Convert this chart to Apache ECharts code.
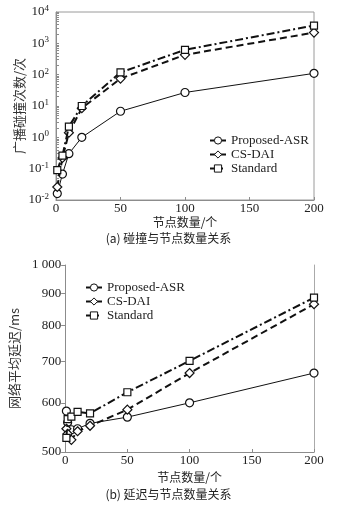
<!DOCTYPE html>
<html>
<head>
<meta charset="utf-8">
<script src="https://cdn.jsdelivr.net/npm/echarts@6/dist/echarts.min.js"></script>
<style>
  html, body { margin: 0; padding: 0; background: #fff; }
  #main { width: 337px; height: 505px; }
</style>
</head>
<body>
<div id="main"></div>
<script>
// (a) collisions vs node count
const nodesA = [1, 5, 10, 20, 50, 100, 200];
const asrA = [0.016, 0.067, 0.3, 1.0, 6.8, 27, 110];
const daiA = [0.026, 0.22, 1.4, 8.5, 75, 430, 2200];
const stdA = [0.09, 0.26, 2.2, 10, 118, 620, 3700];

// (b) delay vs node count
const nodesB = [1, 2, 5, 10, 20, 50, 100, 200];
const asrB = [582, 558, 543, 545, 556, 569, 600, 670];
const daiB = [545, 535, 523, 540, 551, 585, 670, 865];
const stdB = [527, 565, 570, 580, 577, 624, 701, 886];

const xTicks = [0, 50, 100, 150, 200];
const yTicksA = [0.01, 0.1, 1, 10, 100, 1000, 10000];
const yMinorA = [];
yTicksA.slice(0, -1).forEach(d => { for (let k = 1; k <= 9; k++) yMinorA.push(+(d * k).toPrecision(3)); });
yMinorA.push(10000);
const yTicksB = [500, 600, 700, 800, 900, 1000];

const serif = "'Liberation Serif', 'Noto Sans CJK SC', serif";
const cjk = "'Noto Sans CJK SC', sans-serif";
const axisGray = '#8c8c8c';

function pairs(xs, ys) { return xs.map((x, i) => [x, ys[i]]); }

const names = ['Proposed-ASR', 'CS-DAI', 'Standard'];
const styles = [
  { width: 1, type: 'solid' },
  { width: 2, type: [7, 4] },
  { width: 2, type: [8, 3, 2, 3] }
];
const symbols = ['circle', 'diamond', 'rect'];
const sizes = [8, 9, 7];

function mkSeries(data, xi, yi) {
  return data.map((d, i) => ({
    name: names[i],
    type: 'line',
    xAxisIndex: xi,
    yAxisIndex: yi,
    data: d,
    symbol: symbols[i],
    symbolSize: sizes[i],
    showAllSymbol: true,
    lineStyle: { color: '#111', width: styles[i].width, type: styles[i].type },
    itemStyle: { color: '#fff', borderColor: '#111', borderWidth: 1.2 },
    z: 3 + i
  }));
}

const chart = echarts.init(document.getElementById('main'), null, { renderer: 'canvas' });

const xAxisBase = (gi, nameGap) => ({
  gridIndex: gi,
  type: 'value',
  min: 0, max: 200, interval: 50,
  name: '节点数量/个',
  nameLocation: 'middle',
  nameGap: nameGap,
  nameTextStyle: { fontFamily: cjk, fontSize: 12, color: '#222' },
  axisLine: { lineStyle: { color: axisGray } },
  axisTick: { inside: true, length: 3, lineStyle: { color: axisGray }, customValues: xTicks },
  axisLabel: { fontFamily: serif, fontSize: 13, color: '#222', margin: 2, customValues: xTicks },
  splitLine: { show: false }
});

const legendBase = (left, top) => ({
  data: names, orient: 'vertical', left: left, top: top,
  itemWidth: 16, itemHeight: 9, itemGap: 1,
  itemStyle: { color: '#fff', borderColor: '#111', borderWidth: 1 },
  textStyle: { fontFamily: serif, fontSize: 13, color: '#222', lineHeight: 13 }
});

const option = {
  backgroundColor: '#fff',
  animation: false,
  grid: [
    { left: 56, right: 23, top: 12, height: 188, show: true, borderColor: '#9a9a9a', borderWidth: 1 },
    { left: 56, right: 23, top: 265, height: 187 }
  ],
  legend: [legendBase(204, 129), legendBase(80, 276)],
  xAxis: [xAxisBase(0, 16), xAxisBase(1, 19)],
  yAxis: [
    {
      gridIndex: 0,
      type: 'log', logBase: 10, min: 0.01, max: 10000,
      name: '广播碰撞次数/次',
      nameLocation: 'middle', nameGap: 30, nameRotate: 90, nameMoveOverlap: false,
      nameTextStyle: { fontFamily: cjk, fontSize: 13, color: '#333' },
      axisLine: { show: true, lineStyle: { color: axisGray } },
      axisTick: { inside: true, length: 3, lineStyle: { color: axisGray }, customValues: yMinorA },
      axisLabel: {
        customValues: yTicksA,
        fontFamily: serif, fontSize: 13, color: '#222', margin: 7,
        formatter: v => '10{s|' + Math.round(Math.log10(v)) + '}',
        rich: { s: { fontFamily: serif, fontSize: 9, color: '#222', verticalAlign: 'top', padding: [0, 0, 7, 0] } }
      },
      splitLine: { show: false }
    },
    {
      gridIndex: 1,
      type: 'log', logBase: 10, min: 500, max: 1000,
      name: '网络平均延迟/ms',
      nameLocation: 'middle', nameGap: 37, nameRotate: 90,
      nameTextStyle: { fontFamily: cjk, fontSize: 13, color: '#333' },
      axisLine: { show: true, lineStyle: { color: axisGray } },
      axisTick: { inside: false, length: 4, lineStyle: { color: axisGray }, customValues: yTicksB },
      axisLabel: {
        customValues: yTicksB,
        fontFamily: serif, fontSize: 13, color: '#222', margin: 4,
        formatter: v => v === 1000 ? '1 000' : String(v)
      },
      splitLine: { show: false }
    },
    {
      gridIndex: 1,
      type: 'log', logBase: 10, min: 500, max: 1000,
      position: 'right',
      axisLine: { show: true, lineStyle: { color: '#aaa' } },
      axisTick: { show: false },
      axisLabel: { show: false },
      splitLine: { show: false }
    }
  ],
  graphic: [
    {
      type: 'text', left: 'center', top: 232,
      style: { text: '(a) 碰撞与节点数量关系', font: "12px 'Noto Sans CJK SC', sans-serif", fill: '#222' }
    },
    {
      type: 'text', left: 'center', top: 488,
      style: { text: '(b) 延迟与节点数量关系', font: "12px 'Noto Sans CJK SC', sans-serif", fill: '#222' }
    }
  ],
  series: [
    ...mkSeries([pairs(nodesA, asrA), pairs(nodesA, daiA), pairs(nodesA, stdA)], 0, 0),
    ...mkSeries([pairs(nodesB, asrB), pairs(nodesB, daiB), pairs(nodesB, stdB)], 1, 1)
  ]
};

chart.setOption(option);
</script>
</body>
</html>
